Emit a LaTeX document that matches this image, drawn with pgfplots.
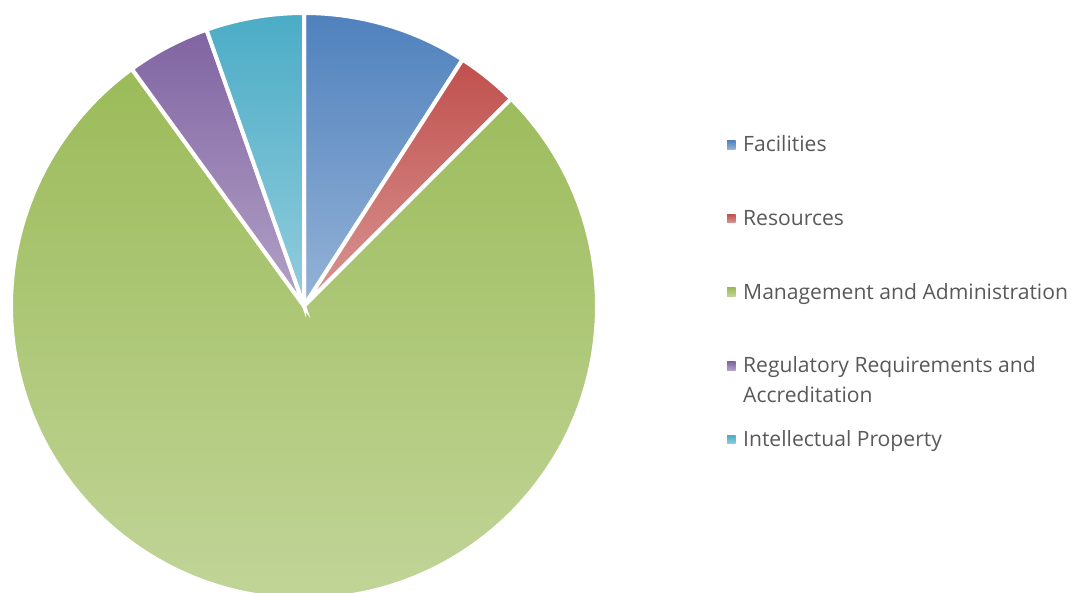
\documentclass[border=0pt]{standalone}
\usepackage{pgfplots}
\usepackage{pgfplotstable}
\pgfplotsset{compat=1.18}
\usepackage{fontspec}
\setmainfont{Open Sans}
\definecolor{pietop0}{HTML}{4F81BD}\definecolor{piebot0}{HTML}{95B3D7}
\definecolor{pietop1}{HTML}{C0504D}\definecolor{piebot1}{HTML}{D99694}
\definecolor{pietop2}{HTML}{9BBB59}\definecolor{piebot2}{HTML}{C3D69B}
\definecolor{pietop3}{HTML}{8064A2}\definecolor{piebot3}{HTML}{B3A2C7}
\definecolor{pietop4}{HTML}{4BACC6}\definecolor{piebot4}{HTML}{93CDDD}
\definecolor{legtext}{HTML}{595959}
\pgfplotstableread{
value
9.1
3.4
77.5
4.6
5.4
}\piedata
\newcommand\pieS[1]{\csname pieS#1\endcsname}
\newcommand\pieE[1]{\csname pieE#1\endcsname}
\newcommand\legsq[1]{\shade[draw=none, top color=pietop#1, bottom color=piebot#1] (0pt,12.6pt) rectangle (8.7pt,21.3pt);}
\begin{document}
\begin{tikzpicture}
\xdef\cum{0}
\foreach \i in {0,...,4}{%
  \pgfplotstablegetelem{\i}{value}\of\piedata
  \pgfmathsetmacro\s{90-3.6*\cum}%
  \pgfmathsetmacro\newcum{\cum+\pgfplotsretval}%
  \pgfmathsetmacro\e{90-3.6*\newcum}%
  \expandafter\xdef\csname pieS\i\endcsname{\s}%
  \expandafter\xdef\csname pieE\i\endcsname{\e}%
  \xdef\cum{\newcum}%
}
\begin{axis}[
  name=ax,
  scale only axis, width=1071pt, height=592pt,
  xmin=0, xmax=1071, ymin=0, ymax=592,
  hide axis, clip=true,
  legend cell align=left,
  legend style={at={(axis cs:727,456.3)}, anchor=north west, draw=none, fill=none,
    inner sep=0pt, outer sep=0pt, row sep=21.7pt, column sep=7.5pt,
    font=\fontsize{21.1}{30}\selectfont, text=legtext,
    nodes={inner sep=0pt, text height=16pt, text depth=36pt}},
]
\pgfplotsinvokeforeach{0,...,4}{%
  \shadedraw[top color=pietop#1, bottom color=piebot#1, draw=white, line width=4pt]
    (axis cs:304,286) -- ++(\pieS{#1}:293pt)
    arc[start angle=\pieS{#1}, end angle=\pieE{#1}, radius=293pt] -- cycle;
}
\addlegendimage{legend image code/.code={\legsq{0}}}
\addlegendentry{Facilities}
\addlegendimage{legend image code/.code={\legsq{1}}}
\addlegendentry{Resources}
\addlegendimage{legend image code/.code={\legsq{2}}}
\addlegendentry{Management and Administration}
\addlegendimage{legend image code/.code={\legsq{3}}}
\addlegendentry{\begin{tabular}[t]{@{}l@{}}Regulatory Requirements and\\Accreditation\end{tabular}}
\addlegendimage{legend image code/.code={\legsq{4}}}
\addlegendentry{Intellectual Property}
\end{axis}
\pgfresetboundingbox
\useasboundingbox (ax.south west) rectangle (ax.north east);
\end{tikzpicture}
\end{document}
